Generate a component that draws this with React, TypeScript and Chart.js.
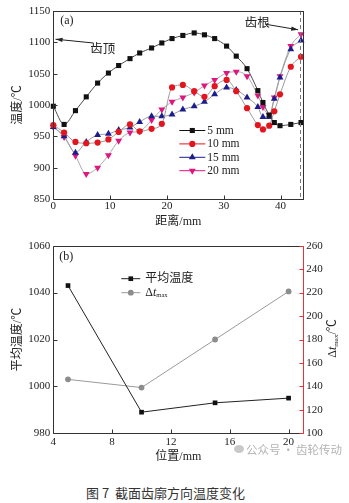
import { useEffect, useRef } from "react";
import { Chart, registerables } from "chart.js";
Chart.register(...registerables);

// ---------- data (a) ----------
const distance = [0, 1.9, 3.9, 5.8, 7.8, 9.7, 11.5, 13.5, 15.2, 17.3, 19.1, 20.9, 22.8, 24.8, 26.6, 28.4, 30.5, 32.2, 34.1, 36, 36.9, 38, 38.9, 39.9, 41.8, 43.6];
const temp5mm = [998, 969, 991, 1013, 1035, 1051, 1063, 1074, 1083, 1091, 1099, 1106, 1111, 1115, 1112, 1106, 1094, 1078, 1058, 1023, 1004, 984, 972, 967, 969, 972];
const temp10mm = [968, 956, 941, 939, 940, 945, 957, 969, 958, 962, 970, 1028, 1032, 1022, 1013, 1030, 1040, 1022, 995, 968, 961, 967, 990, 1017, 1061, 1077];
const temp15mm = [965, 950, 924, 941, 952, 954, 960, 964, 973, 982, 982, 985, 993, 998, 1005, 1017, 1028, 1024, 1012, 997, 981, 981, 1010, 1044, 1089, 1103];
const temp20mm = [965, 949, 919, 890, 900, 920, 943, 956, 958, 976, 993, 1005, 1012, 1020, 1031, 1040, 1051, 1053, 1046, 1015, 997, 984, 1012, 1046, 1094, 1113];
const seriesLabels = ["5 mm", "10 mm", "15 mm", "20 mm"];
const distanceTicks = [0, 10, 20, 30, 40];
const tempTicks = [850, 900, 950, 1000, 1050, 1100, 1150];
const toothRootX = 43.4;

// ---------- data (b) ----------
const position = [5, 10, 15, 20];
const avgTemp = [1043, 989, 993, 995];
const dtMax = [146, 139, 180, 221];
const positionTicks = [4, 8, 12, 16, 20];
const avgTempTicks = [980, 1000, 1020, 1040, 1060];
const dtTicks = [100, 120, 140, 160, 180, 200, 220, 240, 260];

const SERIF = "'Liberation Serif', 'Noto Sans CJK SC', serif";
const CJK = "'Noto Sans CJK SC', sans-serif";

const C_BLACK = "#111111";
const C_RED = "#e3161f";
const C_BLUE = "#1c1c8e";
const C_MAG = "#e0157f";
const C_RIGHT = "#e8323a";

function drawMarker(ctx: CanvasRenderingContext2D, style: string, x: number, y: number, r: number, color: string, rot = 0) {
  ctx.save();
  ctx.fillStyle = color;
  ctx.beginPath();
  if (style === "rect") {
    const s = Math.SQRT1_2 * r;
    ctx.rect(x - s, y - s, 2 * s, 2 * s);
  } else if (style === "circle") {
    ctx.arc(x, y, r, 0, Math.PI * 2);
  } else {
    let rad = (rot * Math.PI) / 180;
    ctx.moveTo(x + Math.sin(rad) * r, y - Math.cos(rad) * r);
    rad += (2 * Math.PI) / 3;
    ctx.lineTo(x + Math.sin(rad) * r, y - Math.cos(rad) * r);
    rad += (2 * Math.PI) / 3;
    ctx.lineTo(x + Math.sin(rad) * r, y - Math.cos(rad) * r);
    ctx.closePath();
  }
  ctx.fill();
  ctx.restore();
}

function arrow(ctx: CanvasRenderingContext2D, x1: number, y1: number, x2: number, y2: number) {
  ctx.save();
  ctx.strokeStyle = "#222";
  ctx.fillStyle = "#222";
  ctx.lineWidth = 1;
  ctx.beginPath();
  ctx.moveTo(x1, y1);
  ctx.lineTo(x2, y2);
  ctx.stroke();
  const ang = Math.atan2(y2 - y1, x2 - x1);
  const L = 7, W = 2.2;
  ctx.beginPath();
  ctx.moveTo(x2, y2);
  ctx.lineTo(x2 - L * Math.cos(ang) + W * Math.sin(ang), y2 - L * Math.sin(ang) - W * Math.cos(ang));
  ctx.lineTo(x2 - L * Math.cos(ang) - W * Math.sin(ang), y2 - L * Math.sin(ang) + W * Math.cos(ang));
  ctx.closePath();
  ctx.fill();
  ctx.restore();
}

type Part = { text: string; font: string; dy?: number };
function drawParts(ctx: CanvasRenderingContext2D, parts: Part[], x: number, y: number, align: "left" | "center") {
  ctx.save();
  ctx.textBaseline = "middle";
  ctx.textAlign = "left";
  let total = 0;
  const ws = parts.map((p) => {
    ctx.font = p.font;
    const w = ctx.measureText(p.text).width;
    total += w;
    return w;
  });
  let cx = align === "center" ? x - total / 2 : x;
  parts.forEach((p, i) => {
    ctx.font = p.font;
    ctx.fillText(p.text, cx, y + (p.dy || 0));
    cx += ws[i];
  });
  ctx.restore();
}

function crisp(v: number) {
  return Math.round(v) + 0.5;
}

function inwardTicks(ctx: CanvasRenderingContext2D, chart: any, id: string, side: "bottom" | "left" | "right", color: string) {
  const s = chart.scales[id];
  const a = chart.chartArea;
  ctx.save();
  ctx.strokeStyle = color;
  ctx.lineWidth = 1;
  ctx.beginPath();
  s.ticks.forEach((t: any) => {
    const p = crisp(s.getPixelForValue(t.value));
    if (side === "bottom") {
      ctx.moveTo(p, crisp(a.bottom));
      ctx.lineTo(p, crisp(a.bottom) - 4);
    } else if (side === "left") {
      ctx.moveTo(crisp(a.left), p);
      ctx.lineTo(crisp(a.left) + 4, p);
    } else {
      ctx.moveTo(crisp(a.right), p);
      ctx.lineTo(crisp(a.right) - 4, p);
    }
  });
  ctx.stroke();
  ctx.restore();
}

const topSeries = [
  { data: temp5mm, color: C_BLACK, line: "#4a4a4a", style: "rect", r: 3.6, rot: 0 },
  { data: temp10mm, color: C_RED, line: "#9a9a9a", style: "circle", r: 3.1, rot: 0 },
  { data: temp15mm, color: C_BLUE, line: "#9a9a9a", style: "triangle", r: 4, rot: 0 },
  { data: temp20mm, color: C_MAG, line: "#a8a8a8", style: "triangle", r: 4, rot: 180 },
];

const topDecor = {
  id: "topDecor",
  afterDraw(chart: any) {
    const { ctx, chartArea: a } = chart;
    const xs = chart.scales.x, ys = chart.scales.y;
    ctx.save();
    ctx.strokeStyle = "#777";
    ctx.lineWidth = 1;
    ctx.setLineDash([4, 3]);
    const dx = crisp(xs.getPixelForValue(toothRootX));
    ctx.beginPath();
    ctx.moveTo(dx, a.top);
    ctx.lineTo(dx, a.bottom);
    ctx.stroke();
    ctx.setLineDash([]);
    ctx.strokeStyle = "#333";
    ctx.strokeRect(crisp(a.left), crisp(a.top), Math.round(a.right) - Math.round(a.left), Math.round(a.bottom) - Math.round(a.top));
    ctx.restore();
    inwardTicks(ctx, chart, "x", "bottom", "#333");
    inwardTicks(ctx, chart, "y", "left", "#333");

    ctx.save();
    ctx.fillStyle = "#222";
    ctx.font = `12px ${SERIF}`;
    ctx.textBaseline = "middle";
    ctx.fillText("(a)", a.left + 7, a.top + 10);
    ctx.textAlign = "center";
    ctx.font = `12px ${SERIF}`;
    ctx.fillText("距离/mm", (a.left + a.right) / 2, a.bottom + 23);
    ctx.save();
    ctx.translate(18, (a.top + a.bottom) / 2);
    ctx.rotate(-Math.PI / 2);
    ctx.fillText("温度/℃", 0, 0);
    ctx.restore();
    ctx.font = `12.5px ${SERIF}`;
    ctx.fillText("齿顶", xs.getPixelForValue(8.7), ys.getPixelForValue(1088));
    arrow(ctx, xs.getPixelForValue(7.0), ys.getPixelForValue(1099), xs.getPixelForValue(0.4), ys.getPixelForValue(1105));
    ctx.fillText("齿根", xs.getPixelForValue(35.9), ys.getPixelForValue(1130));
    arrow(ctx, xs.getPixelForValue(37.3), ys.getPixelForValue(1129), xs.getPixelForValue(43.1), ys.getPixelForValue(1120));
    ctx.restore();

    ctx.save();
    const lx0 = a.left + 126, lx1 = a.left + 152;
    const legendColors = [C_BLACK, C_RED, C_BLUE, C_MAG];
    topSeries.forEach((s, i) => {
      const ly = a.top + 119 + i * 13.4;
      ctx.strokeStyle = legendColors[i];
      ctx.lineWidth = 1;
      ctx.beginPath();
      ctx.moveTo(lx0, ly + 0.5);
      ctx.lineTo(lx1, ly + 0.5);
      ctx.stroke();
      drawMarker(ctx, s.style, (lx0 + lx1) / 2, ly + 0.5, s.r, s.color, s.rot);
      ctx.fillStyle = "#222";
      ctx.font = `11.5px ${SERIF}`;
      ctx.textBaseline = "middle";
      ctx.textAlign = "left";
      ctx.fillText(seriesLabels[i], lx1 + 2, ly + 1);
    });
    ctx.restore();
  },
};

const botDecor = {
  id: "botDecor",
  afterDraw(chart: any) {
    const { ctx, chartArea: a } = chart;
    const L = crisp(a.left), R = crisp(a.right), T = crisp(a.top), B = crisp(a.bottom);
    ctx.save();
    ctx.lineWidth = 1;
    ctx.strokeStyle = "#333";
    ctx.beginPath();
    ctx.moveTo(R, T);
    ctx.lineTo(L, T);
    ctx.lineTo(L, B);
    ctx.lineTo(R, B);
    ctx.stroke();
    ctx.strokeStyle = C_RIGHT;
    ctx.beginPath();
    ctx.moveTo(R, T);
    ctx.lineTo(R, B);
    ctx.stroke();
    ctx.restore();
    inwardTicks(ctx, chart, "x", "bottom", "#333");
    inwardTicks(ctx, chart, "y", "left", "#333");
    inwardTicks(ctx, chart, "y1", "right", C_RIGHT);

    ctx.save();
    ctx.fillStyle = "#222";
    ctx.font = `12px ${SERIF}`;
    ctx.textBaseline = "middle";
    ctx.fillText("(b)", a.left + 6, a.top + 11);
    ctx.textAlign = "center";
    ctx.fillText("位置/mm", (a.left + a.right) / 2, a.bottom + 23.5);
    ctx.save();
    ctx.translate(18, (a.top + a.bottom) / 2);
    ctx.rotate(-Math.PI / 2);
    ctx.fillText("平均温度/℃", 0, 0);
    ctx.restore();
    ctx.save();
    ctx.translate(333, (a.top + a.bottom) / 2 - 1);
    ctx.rotate(-Math.PI / 2);
    drawParts(
      ctx,
      [
        { text: "Δ", font: `12px ${SERIF}` },
        { text: "t", font: `italic 12px ${SERIF}` },
        { text: "max", font: `7px ${SERIF}`, dy: 3 },
        { text: "/℃", font: `12px ${SERIF}` },
      ],
      0,
      0,
      "center"
    );
    ctx.restore();

    const lx0 = a.left + 68, lx1 = a.left + 87;
    const rows = [
      { y: a.top + 32.5, color: "#222", mcolor: "#111", style: "rect", r: 3.3 },
      { y: a.top + 46.5, color: "#999", mcolor: "#8c8c8c", style: "circle", r: 2.9 },
    ];
    rows.forEach((rw) => {
      ctx.strokeStyle = rw.color;
      ctx.lineWidth = 1;
      ctx.beginPath();
      ctx.moveTo(lx0, rw.y + 0.5);
      ctx.lineTo(lx1, rw.y + 0.5);
      ctx.stroke();
      drawMarker(ctx, rw.style, (lx0 + lx1) / 2, rw.y + 0.5, rw.r, rw.mcolor);
    });
    ctx.fillStyle = "#222";
    ctx.textAlign = "left";
    ctx.font = `12px ${SERIF}`;
    ctx.fillText("平均温度", lx1 + 5, rows[0].y + 0.5);
    drawParts(
      ctx,
      [
        { text: "Δ", font: `12px ${SERIF}` },
        { text: "t", font: `italic 12px ${SERIF}` },
        { text: "max", font: `6.5px ${SERIF}`, dy: 3 },
      ],
      lx1 + 5,
      rows[1].y + 0.5,
      "left"
    );
    ctx.restore();
  },
};

const tickFont = { family: SERIF, size: 11 };
const plainLabel = (v: any) => String(v);
const noGrid = { display: false, drawTicks: false };

export default function App() {
  const topRef = useRef<HTMLCanvasElement>(null);
  const botRef = useRef<HTMLCanvasElement>(null);

  useEffect(() => {
    document.body.style.margin = "0";
    const c1 = new Chart(topRef.current as HTMLCanvasElement, {
      type: "line",
      data: {
        datasets: topSeries.map((s, i) => ({
          label: seriesLabels[i],
          data: distance.map((d, k) => ({ x: d, y: s.data[k] })),
          borderColor: s.line,
          borderWidth: 1,
          backgroundColor: s.color,
          pointBackgroundColor: s.color,
          pointBorderColor: s.color,
          pointBorderWidth: 0,
          pointStyle: s.style as any,
          pointRadius: s.r,
          pointRotation: s.rot,
          cubicInterpolationMode: "monotone" as const,
          tension: 0.4,
          fill: false,
          clip: false as any,
        })),
      },
      options: {
        responsive: false,
        animation: false,
        devicePixelRatio: 1,
        events: [],
        layout: { padding: { top: 11, right: 45.7, left: 0, bottom: 0 } },
        plugins: { legend: { display: false }, tooltip: { enabled: false } },
        scales: {
          x: {
            type: "linear",
            min: 0,
            max: 44,
            grid: noGrid,
            border: { display: false },
            ticks: { font: tickFont, color: "#222", padding: 1, maxRotation: 0, autoSkip: false, callback: plainLabel },
            afterBuildTicks: (s: any) => {
              s.ticks = distanceTicks.map((v) => ({ value: v }));
            },
            afterFit: (s: any) => {
              s.height = 31;
            },
          },
          y: {
            type: "linear",
            min: 850,
            max: 1150,
            grid: noGrid,
            border: { display: false },
            ticks: { font: tickFont, color: "#222", padding: 3, autoSkip: false, callback: plainLabel },
            afterBuildTicks: (s: any) => {
              s.ticks = tempTicks.map((v) => ({ value: v }));
            },
            afterFit: (s: any) => {
              s.width = 53.3;
            },
          },
        },
      },
      plugins: [topDecor],
    });

    const c2 = new Chart(botRef.current as HTMLCanvasElement, {
      type: "line",
      data: {
        datasets: [
          {
            label: "平均温度",
            data: position.map((p, i) => ({ x: p, y: avgTemp[i] })),
            yAxisID: "y",
            borderColor: "#222",
            borderWidth: 1,
            pointStyle: "rect",
            pointRadius: 3.3,
            pointBackgroundColor: "#111",
            pointBorderWidth: 0,
            tension: 0,
            fill: false,
            clip: false as any,
          },
          {
            label: "Δtmax",
            data: position.map((p, i) => ({ x: p, y: dtMax[i] })),
            yAxisID: "y1",
            borderColor: "#9a9a9a",
            borderWidth: 1,
            pointStyle: "circle",
            pointRadius: 2.9,
            pointBackgroundColor: "#8c8c8c",
            pointBorderWidth: 0,
            tension: 0,
            fill: false,
            clip: false as any,
          },
        ],
      },
      options: {
        responsive: false,
        animation: false,
        devicePixelRatio: 1,
        events: [],
        layout: { padding: { top: 15.7, right: 0, left: 0, bottom: 0 } },
        plugins: { legend: { display: false }, tooltip: { enabled: false } },
        scales: {
          x: {
            type: "linear",
            min: 4,
            max: 21,
            grid: noGrid,
            border: { display: false },
            ticks: { font: tickFont, color: "#222", padding: 2, maxRotation: 0, autoSkip: false, callback: plainLabel },
            afterBuildTicks: (s: any) => {
              s.ticks = positionTicks.map((v) => ({ value: v }));
            },
            afterFit: (s: any) => {
              s.height = 36.7;
            },
          },
          y: {
            type: "linear",
            position: "left",
            min: 980,
            max: 1060,
            grid: noGrid,
            border: { display: false },
            ticks: { font: tickFont, color: "#222", padding: 3, autoSkip: false, callback: plainLabel },
            afterBuildTicks: (s: any) => {
              s.ticks = avgTempTicks.map((v) => ({ value: v }));
            },
            afterFit: (s: any) => {
              s.width = 53.3;
            },
          },
          y1: {
            type: "linear",
            position: "right",
            min: 100,
            max: 260,
            grid: noGrid,
            border: { display: false },
            ticks: { font: tickFont, color: "#222", padding: 3, autoSkip: false, callback: plainLabel },
            afterBuildTicks: (s: any) => {
              s.ticks = dtTicks.map((v) => ({ value: v }));
            },
            afterFit: (s: any) => {
              s.width = 45.7;
            },
          },
        },
      },
      plugins: [botDecor],
    });

    return () => {
      c1.destroy();
      c2.destroy();
    };
  }, []);

  return (
    <div style={{ position: "relative", width: 349, height: 503, background: "#fff", overflow: "hidden" }}>
      <canvas ref={topRef} width={349} height={230} style={{ position: "absolute", left: 0, top: 0 }} />
      <canvas ref={botRef} width={349} height={240} style={{ position: "absolute", left: 0, top: 230 }} />
      <div
        style={{
          position: "absolute",
          left: 234,
          top: 441,
          fontFamily: CJK,
          fontSize: 11.5,
          lineHeight: "16px",
          color: "#b4b4b4",
          whiteSpace: "nowrap",
          display: "flex",
          alignItems: "center",
        }}
      >
        <span
          style={{
            display: "inline-block",
            width: 10,
            height: 8,
            borderRadius: "50%",
            background: "#c8c8c8",
            marginRight: 2,
          }}
        />
        <span>公众号</span>
        <span style={{ margin: "0 2px" }}>·</span>
        <span>齿轮传动</span>
      </div>
      <div
        style={{
          position: "absolute",
          left: 86,
          top: 484,
          fontFamily: CJK,
          fontSize: 13,
          lineHeight: "18px",
          color: "#333",
          whiteSpace: "pre",
        }}
      >
        {"图 7  截面齿廓方向温度变化"}
      </div>
    </div>
  );
}
